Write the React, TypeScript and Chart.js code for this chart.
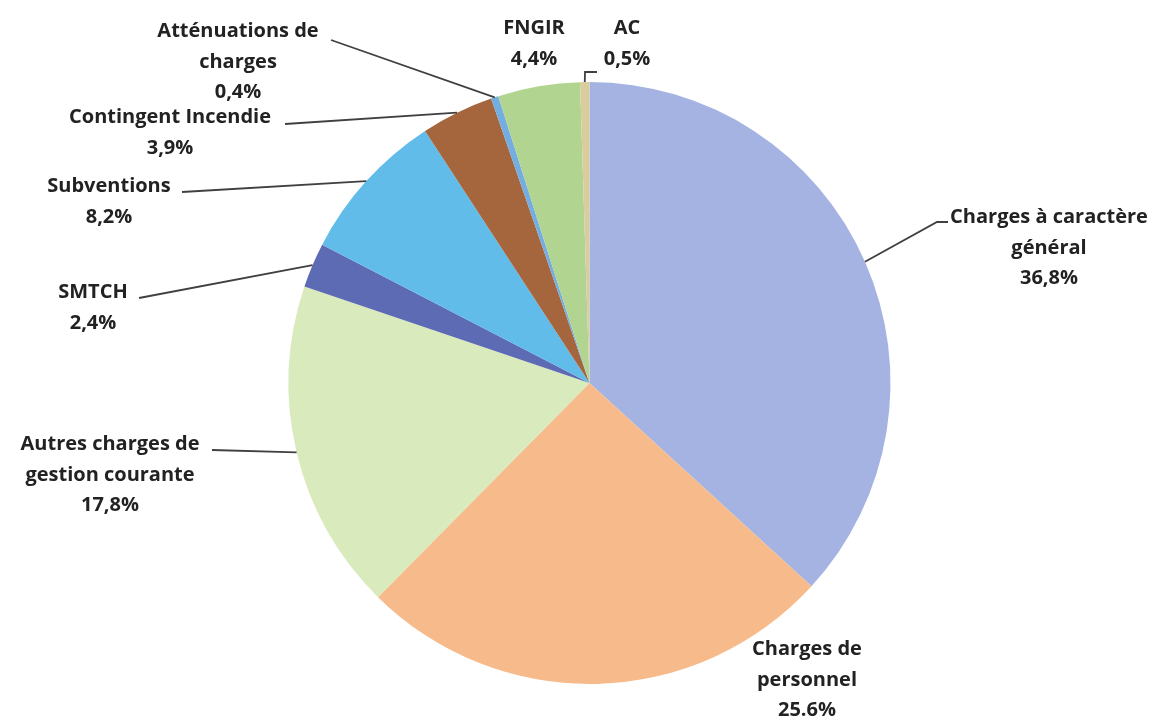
import React, { useEffect, useRef } from "react";
import { Chart, registerables } from "chart.js";

Chart.register(...registerables);

const categories = [
  "Charges à caractère général",
  "Charges de personnel",
  "Autres charges de gestion courante",
  "SMTCH",
  "Subventions",
  "Contingent Incendie",
  "Atténuations de charges",
  "FNGIR",
  "AC",
];

const shares = [36.8, 25.6, 17.8, 2.4, 8.2, 3.9, 0.4, 4.4, 0.5];

const shareLabels = ["36,8%", "25.6%", "17,8%", "2,4%", "8,2%", "3,9%", "0,4%", "4,4%", "0,5%"];

const labelLines = [
  ["Charges à caractère", "général"],
  ["Charges de", "personnel"],
  ["Autres charges de", "gestion courante"],
  ["SMTCH"],
  ["Subventions"],
  ["Contingent Incendie"],
  ["Atténuations de", "charges"],
  ["FNGIR"],
  ["AC"],
];

const colors = [
  "#a5b3e3",
  "#f7ba8b",
  "#d9eabd",
  "#5c6bb4",
  "#61bce9",
  "#a6663d",
  "#74aee0",
  "#b1d491",
  "#d9cd9d",
];

// label layout: text centre x, first baseline y, leader path points (from label toward slice)
const labelLayout = [
  { x: 1049, y: 223, path: [[948, 222], [937, 222]] },
  { x: 807, y: 655, path: null },
  { x: 110, y: 450, path: [[212, 450]] },
  { x: 93, y: 298, path: [[139, 298]] },
  { x: 109, y: 192, path: [[182, 192]] },
  { x: 170, y: 123, path: [[285, 124]] },
  { x: 238, y: 37, path: [[331, 40]] },
  { x: 534, y: 34, path: null },
  { x: 627, y: 34, path: [[597, 72], [585, 72]] },
];

const LINE_H = 30.5;

const labelPlugin = {
  id: "outerLabels",
  afterDraw(chart: any) {
    const ctx = chart.ctx;
    const meta = chart.getDatasetMeta(0);
    ctx.save();
    meta.data.forEach((arc: any, i: number) => {
      const lay = labelLayout[i];
      const { x, y, startAngle, endAngle, outerRadius } = arc.getProps(
        ["x", "y", "startAngle", "endAngle", "outerRadius"],
        true
      );
      const mid = (startAngle + endAngle) / 2;
      const ax = x + Math.cos(mid) * outerRadius;
      const ay = y + Math.sin(mid) * outerRadius;
      if (lay.path) {
        ctx.beginPath();
        ctx.strokeStyle = "#404040";
        ctx.lineWidth = 1.8;
        ctx.moveTo(lay.path[0][0], lay.path[0][1]);
        for (let k = 1; k < lay.path.length; k++) ctx.lineTo(lay.path[k][0], lay.path[k][1]);
        ctx.lineTo(ax, ay);
        ctx.stroke();
      }
      const lines = [...labelLines[i], shareLabels[i]];
      ctx.fillStyle = "#222222";
      ctx.font = "bold 20px 'Open Sans'";
      ctx.textAlign = "center";
      ctx.textBaseline = "alphabetic";
      lines.forEach((t, k) => {
        ctx.fillText(t, lay.x, lay.y + k * LINE_H);
      });
    });
    ctx.restore();
  },
};

export default function App() {
  const ref = useRef<HTMLCanvasElement | null>(null);
  useEffect(() => {
    if (!ref.current) return;
    const chart = new Chart(ref.current, {
      type: "pie",
      data: {
        labels: categories,
        datasets: [
          {
            data: shares,
            backgroundColor: colors,
            borderWidth: 0,
          },
        ],
      },
      options: {
        responsive: false,
        animation: false,
        devicePixelRatio: 1,
        layout: { padding: { left: 288, right: 271, top: 82, bottom: 34 } },
        plugins: {
          legend: { display: false },
          tooltip: { enabled: false },
          title: { display: false },
        },
      },
      plugins: [labelPlugin],
    });
    return () => chart.destroy();
  }, []);
  return (
    <div style={{ position: "absolute", left: 0, top: 0, width: 1162, height: 718, background: "#fff" }}>
      <canvas ref={ref} width={1162} height={718} />
    </div>
  );
}
